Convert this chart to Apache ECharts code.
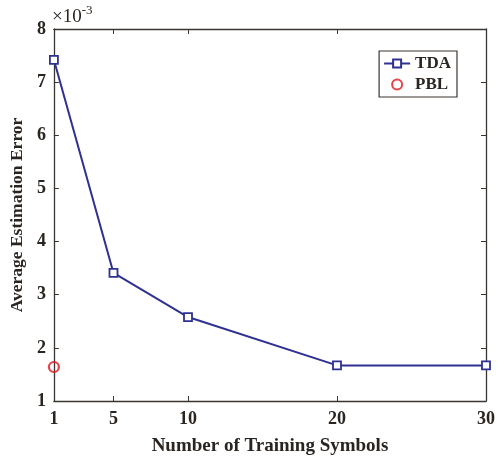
<!DOCTYPE html>
<html>
<head>
<meta charset="utf-8">
<script src="https://cdn.jsdelivr.net/npm/echarts@6/dist/echarts.min.js"></script>
<style>
  html, body { margin: 0; padding: 0; background: #fff; }
  #chart { width: 498px; height: 461px; }
</style>
</head>
<body>
<div id="chart"></div>
<script>
// Training-symbol counts and estimation errors (in units of 1e-3)
const trainingSymbols = [1, 5, 10, 20, 30];
const tdaError = [7.42, 3.41, 2.58, 1.67, 1.67];
const pblSymbols = [1];
const pblError = [1.64];
const xTicks = [1, 5, 10, 20, 30];
const yTicks = [1, 2, 3, 4, 5, 6, 7, 8];

const FONT = '"Liberation Serif", "Times New Roman", serif';
const AXIS_COLOR = '#3a3530';
const TEXT_COLOR = '#2a2520';

const chart = echarts.init(document.getElementById('chart'), null, { renderer: 'canvas' });

const frameAxis = {
  axisLine: { show: true, lineStyle: { color: AXIS_COLOR, width: 1.3 } },
  splitLine: { show: false }
};

chart.setOption({
  animation: false,
  backgroundColor: '#fff',
  grid: { left: 49, right: 7, top: 29, bottom: 55, containLabel: false },
  xAxis: [
    Object.assign({
      type: 'value', position: 'bottom', min: 1, max: 30,
      name: 'Number of Training Symbols', nameLocation: 'middle', nameGap: 36,
      nameTextStyle: { fontFamily: FONT, fontWeight: 'bold', fontSize: 19, color: TEXT_COLOR },
      axisTick: { inside: true, length: 5, customValues: xTicks, lineStyle: { color: AXIS_COLOR } },
      axisLabel: { customValues: xTicks, margin: 9, fontFamily: FONT, fontWeight: 'bold', fontSize: 18, color: TEXT_COLOR }
    }, frameAxis),
    Object.assign({
      type: 'value', position: 'top', min: 1, max: 30,
      axisTick: { inside: true, length: 5, customValues: xTicks, lineStyle: { color: AXIS_COLOR } },
      axisLabel: { show: false }
    }, frameAxis)
  ],
  yAxis: [
    Object.assign({
      type: 'value', position: 'left', min: 1, max: 8, interval: 1,
      name: 'Average Estimation Error', nameLocation: 'middle', nameGap: 25,
      nameTextStyle: { fontFamily: FONT, fontWeight: 'bold', fontSize: 17.5, color: TEXT_COLOR },
      axisTick: { inside: true, length: 5, lineStyle: { color: AXIS_COLOR } },
      axisLabel: { margin: 8, fontFamily: FONT, fontWeight: 'bold', fontSize: 18, color: TEXT_COLOR,
        customValues: yTicks }
    }, frameAxis),
    Object.assign({
      type: 'value', position: 'right', min: 1, max: 8, interval: 1,
      axisTick: { inside: true, length: 5, lineStyle: { color: AXIS_COLOR } },
      axisLabel: { show: false }
    }, frameAxis)
  ],
  legend: {
    orient: 'vertical',
    right: 41, top: 51,
    itemGap: 4,
    itemWidth: 26, itemHeight: 10,
    padding: [4, 6, 4, 4],
    borderColor: '#3a3530', borderWidth: 1.2,
    backgroundColor: '#fff',
    textStyle: { fontFamily: FONT, fontWeight: 'bold', fontSize: 17, color: TEXT_COLOR },
    data: [
      { name: 'TDA' },
      { name: 'PBL' }
    ]
  },
  graphic: [
    {
      type: 'text', left: 52, top: 4,
      style: {
        text: '{b|×10}{s|-3}',
        rich: {
          b: { fontFamily: FONT, fontSize: 19, fill: TEXT_COLOR, verticalAlign: 'bottom' },
          s: { fontFamily: FONT, fontSize: 13, fill: TEXT_COLOR, padding: [0, 0, 10, 0] }
        }
      }
    }
  ],
  series: [
    {
      name: 'TDA', type: 'line',
      data: trainingSymbols.map((x, i) => [x, tdaError[i]]),
      symbol: 'rect', symbolSize: 8,
      lineStyle: { color: '#2e3192', width: 2 },
      itemStyle: { color: '#fff', borderColor: '#2e3192', borderWidth: 1.8 },
      color: '#2e3192',
      z: 3
    },
    {
      name: 'PBL', type: 'scatter',
      data: pblSymbols.map((x, i) => [x, pblError[i]]),
      symbol: 'circle', symbolSize: 10,
      itemStyle: { color: 'rgba(255,255,255,0)', borderColor: '#e0141c', borderWidth: 2.2 },
      color: '#e0141c',
      z: 4
    }
  ]
});
</script>
</body>
</html>
